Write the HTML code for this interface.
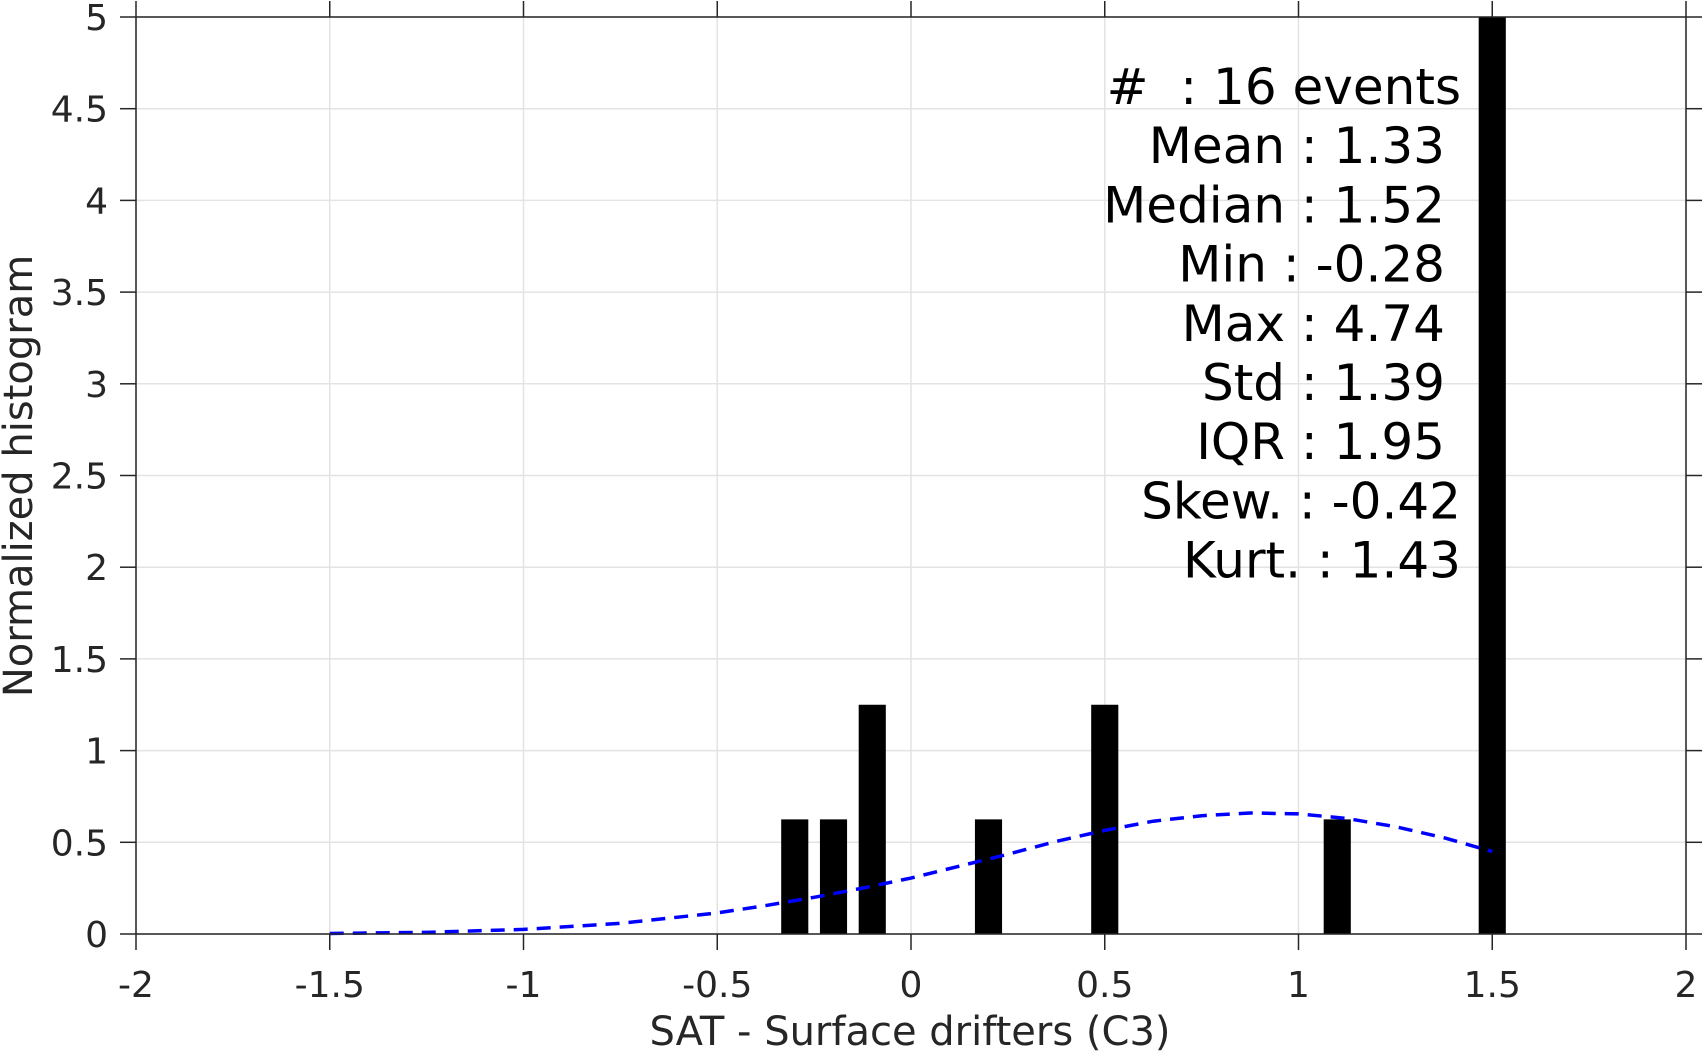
<!DOCTYPE html>
<html><head><meta charset="utf-8"><style>
html,body{margin:0;padding:0;background:#fff;}
svg{display:block;font-family:"DejaVu Sans","Liberation Sans",sans-serif;}
#stats text{white-space:pre;}
</style></head><body>
<svg id="chart" width="1703" height="1053" viewBox="0 0 1703 1053" xmlns="http://www.w3.org/2000/svg">
<g id="grid"></g>
<g id="bars"></g>
<polyline id="fit" fill="none" stroke="#0000ff" stroke-width="3.5" stroke-dasharray="14,9"/>
<g id="axes"></g>
<g id="stats" font-size="50" fill="#000" text-anchor="end"></g>
<text transform="translate(32,476) rotate(-90)" text-anchor="middle" font-size="40" fill="#262626">Normalized histogram</text>
<text x="910" y="1045" text-anchor="middle" font-size="40" fill="#262626">SAT - Surface drifters (C3)</text>
</svg>
<script>
const binCenters=[-0.3,-0.2,-0.1,0.2,0.5,1.1,1.5];
const binValues=[0.625,0.625,1.25,0.625,1.25,0.625,5];
const fitX=[-1.5,-1.25,-1,-0.75,-0.5,-0.375,-0.25,-0.125,0,0.125,0.25,0.375,0.5,0.625,0.75,0.875,1,1.125,1.25,1.375,1.5];
const fitY=[0.003,0.009,0.025,0.058,0.115,0.155,0.2,0.25,0.305,0.37,0.435,0.505,0.565,0.615,0.645,0.66,0.655,0.63,0.585,0.525,0.45];
const xTicks=[-2,-1.5,-1,-0.5,0,0.5,1,1.5,2];
const xTickLabels=["-2","-1.5","-1","-0.5","0","0.5","1","1.5","2"];
const yTicks=[0,0.5,1,1.5,2,2.5,3,3.5,4,4.5,5];
const yTickLabels=["0","0.5","1","1.5","2","2.5","3","3.5","4","4.5","5"];
const statLines=["#  : 16 events","Mean : 1.33","Median : 1.52","Min : -0.28","Max : 4.74","Std : 1.39","IQR : 1.95","Skew. : -0.42","Kurt. : 1.43"];
const barWidth=0.07;
const L=136,R=1686,T=17,B=934;
const X=v=>L+(v+2)/4*(R-L);
const Y=v=>B-v/5*(B-T);
const NS="http://www.w3.org/2000/svg";
function mk(tag,parent,attrs){const e=document.createElementNS(NS,tag);for(const k in attrs)e.setAttribute(k,attrs[k]);parent.appendChild(e);return e;}
const grid=document.getElementById('grid'),axes=document.getElementById('axes'),bars=document.getElementById('bars');
xTicks.forEach((t,i)=>{
 const g=mk('line',grid,{x1:X(t),x2:X(t),y1:T,y2:B,stroke:'#e3e3e3','stroke-width':1.5});
 
 
 [[B,B+16],[T,T-16]].forEach(p=>{const k=mk('line',axes,{x1:X(t),x2:X(t),y1:p[0],y2:p[1],stroke:'#262626','stroke-width':1.5});
 
 });
 const lb=mk('text',axes,{x:X(t),y:997,'text-anchor':'middle','font-size':36,fill:'#262626'});
 
 
 lb.textContent=xTickLabels[i];
});
yTicks.forEach((t,i)=>{
 const g=mk('line',grid,{x1:L,x2:R,y1:Y(t),y2:Y(t),stroke:'#e3e3e3','stroke-width':1.5});
 
 
 [[L,L-16],[R,R+16]].forEach(p=>{const k=mk('line',axes,{x1:p[0],x2:p[1],y1:Y(t),y2:Y(t),stroke:'#262626','stroke-width':1.5});
 
 });
 const lb=mk('text',axes,{x:108,y:Y(t)+13,'text-anchor':'end','font-size':36,fill:'#262626'});
 
 
 lb.textContent=yTickLabels[i];
});
[[L,B,R,B],[L,T,R,T],[L,T,L,B],[R,T,R,B]].forEach(a=>{const l=mk('line',axes,{x1:a[0],y1:a[1],x2:a[2],y2:a[3],stroke:'#262626','stroke-width':1.5});
 
 });
binCenters.forEach((c,i)=>{
 const r=mk('rect',bars,{x:X(c-barWidth/2),y:Y(binValues[i]),width:X(c+barWidth/2)-X(c-barWidth/2),height:B-Y(binValues[i]),fill:'#000'});
 
 
});
document.getElementById('fit').setAttribute('points',fitX.map((x,i)=>X(x)+','+Y(fitY[i])).join(' '));
const stats=document.getElementById('stats');
const ends=[1461,1445,1445,1445,1445,1445,1445,1461,1461];
statLines.forEach((s,i)=>{
 const t=mk('text',stats,{x:ends[i],y:104+i*59.2});
 
 
 t.textContent=s;
});
</script>
</body></html>
